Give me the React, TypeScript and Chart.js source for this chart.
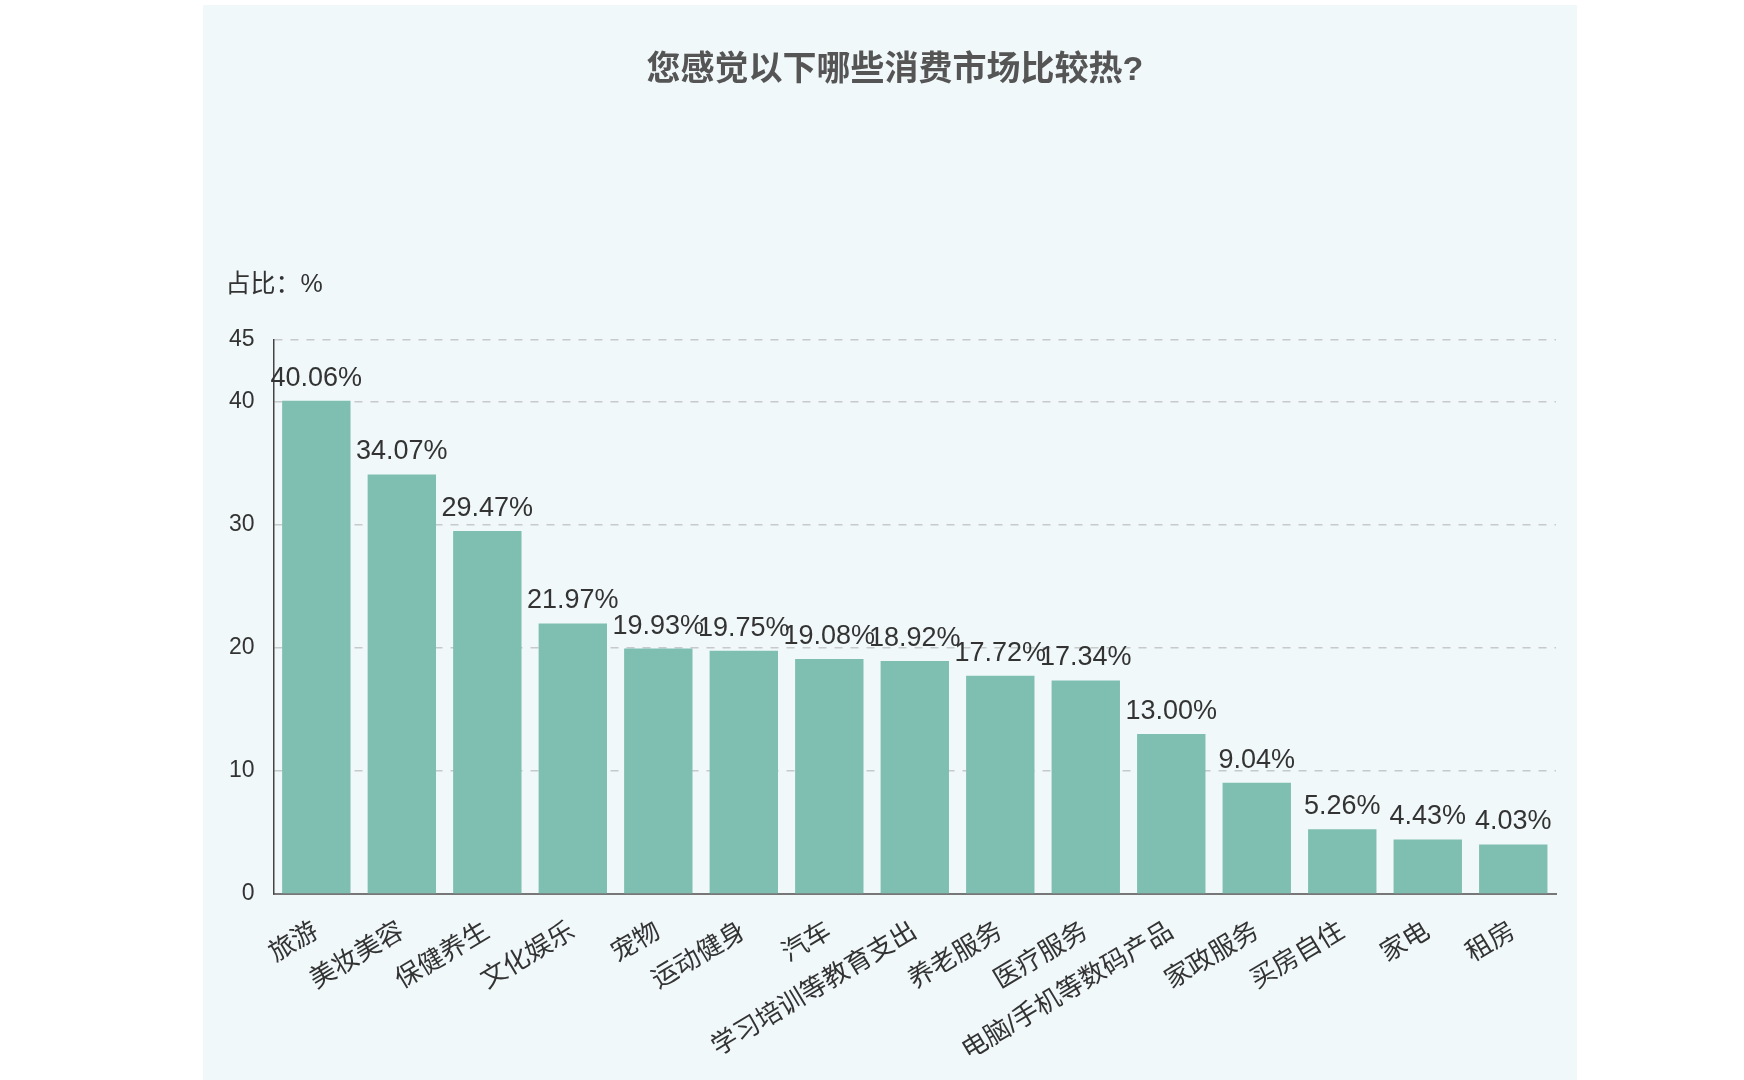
import React, { useEffect, useRef } from "react";
import { Chart, registerables } from "chart.js";

Chart.register(...registerables);

const TITLE = "您感觉以下哪些消费市场比较热?";
const Y_UNIT_LABEL = "占比：%";
const categories = [
  "旅游",
  "美妆美容",
  "保健养生",
  "文化娱乐",
  "宠物",
  "运动健身",
  "汽车",
  "学习培训等教育支出",
  "养老服务",
  "医疗服务",
  "电脑/手机等数码产品",
  "家政服务",
  "买房自住",
  "家电",
  "租房",
];
const values = [40.06, 34.07, 29.47, 21.97, 19.93, 19.75, 19.08, 18.92, 17.72, 17.34, 13.0, 9.04, 5.26, 4.43, 4.03];
const yTicks = [0, 10, 20, 30, 40, 45];

const FONT = "'Liberation Sans', 'Noto Sans CJK SC', sans-serif";

const extrasPlugin = {
  id: "extras",
  afterDatasetsDraw(chart: any) {
    const ctx = chart.ctx;
    const meta = chart.getDatasetMeta(0);
    ctx.save();
    ctx.fillStyle = "#333333";
    ctx.font = `27px ${FONT}`;
    ctx.textAlign = "center";
    ctx.textBaseline = "alphabetic";
    meta.data.forEach((bar: any, i: number) => {
      const v = chart.data.datasets[0].data[i] as number;
      ctx.fillText(v.toFixed(2) + "%", bar.x, bar.y - 15);
    });
    const area = chart.chartArea;
    ctx.font = `25px ${FONT}`;
    ctx.textAlign = "left";
    ctx.textBaseline = "middle";
    ctx.fillText(Y_UNIT_LABEL, area.left - 48, area.top - 55);
    // title
    ctx.fillStyle = "#555555";
    ctx.font = `bold 34px ${FONT}`;
    ctx.textAlign = "center";
    ctx.textBaseline = "middle";
    ctx.fillText(TITLE, chart.width / 2 + 5, 66);
    ctx.restore();
  },
};

export default function App() {
  const ref = useRef<HTMLCanvasElement | null>(null);
  useEffect(() => {
    if (!ref.current) return;
    const chart = new Chart(ref.current, {
      type: "bar",
      data: {
        labels: categories,
        datasets: [
          {
            data: values,
            backgroundColor: "#7fbfb1",
            categoryPercentage: 0.8,
            barPercentage: 1.0,
          },
        ],
      },
      options: {
        animation: false,
        responsive: true,
        maintainAspectRatio: false,
        layout: { padding: { left: 7, right: 21, bottom: 0, top: 334.8 } },
        plugins: {
          legend: { display: false },
          tooltip: { enabled: false },
          title: { display: false },
        },
        scales: {
          x: {
            grid: { display: false, drawTicks: false },
            border: { display: true, color: "#777777", width: 2 },
            afterFit(scale: any) {
              scale.paddingLeft = 0;
              scale.paddingRight = 0;
              scale.height -= 9;
            },
            ticks: {
              autoSkip: false,
              minRotation: 31,
              maxRotation: 31,
              padding: 22,
              color: "#333333",
              font: { size: 26, family: FONT },
            },
          },
          y: {
            min: 0,
            max: 45,
            afterBuildTicks(scale: any) {
              scale.ticks = yTicks.map((v) => ({ value: v }));
            },
            grid: {
              color: (c: any) => (c.tick && c.tick.value === 0 ? "rgba(0,0,0,0)" : "#c6caca"),
              lineWidth: 1.5,
              drawTicks: false,
            },
            border: { display: true, color: "#444444", width: 1.5, dash: [8, 8] as any },
            ticks: {
              padding: 19,
              color: "#333333",
              font: { size: 23, family: FONT },
            },
          },
        },
      },
      plugins: [extrasPlugin],
    });
    return () => chart.destroy();
  }, []);

  return (
    <div
      style={{
        position: "absolute",
        left: 203,
        top: 5,
        width: 1374,
        height: 1075,
        background: "#f1f8fa",
      }}
    >
      <canvas ref={ref} />
    </div>
  );
}
